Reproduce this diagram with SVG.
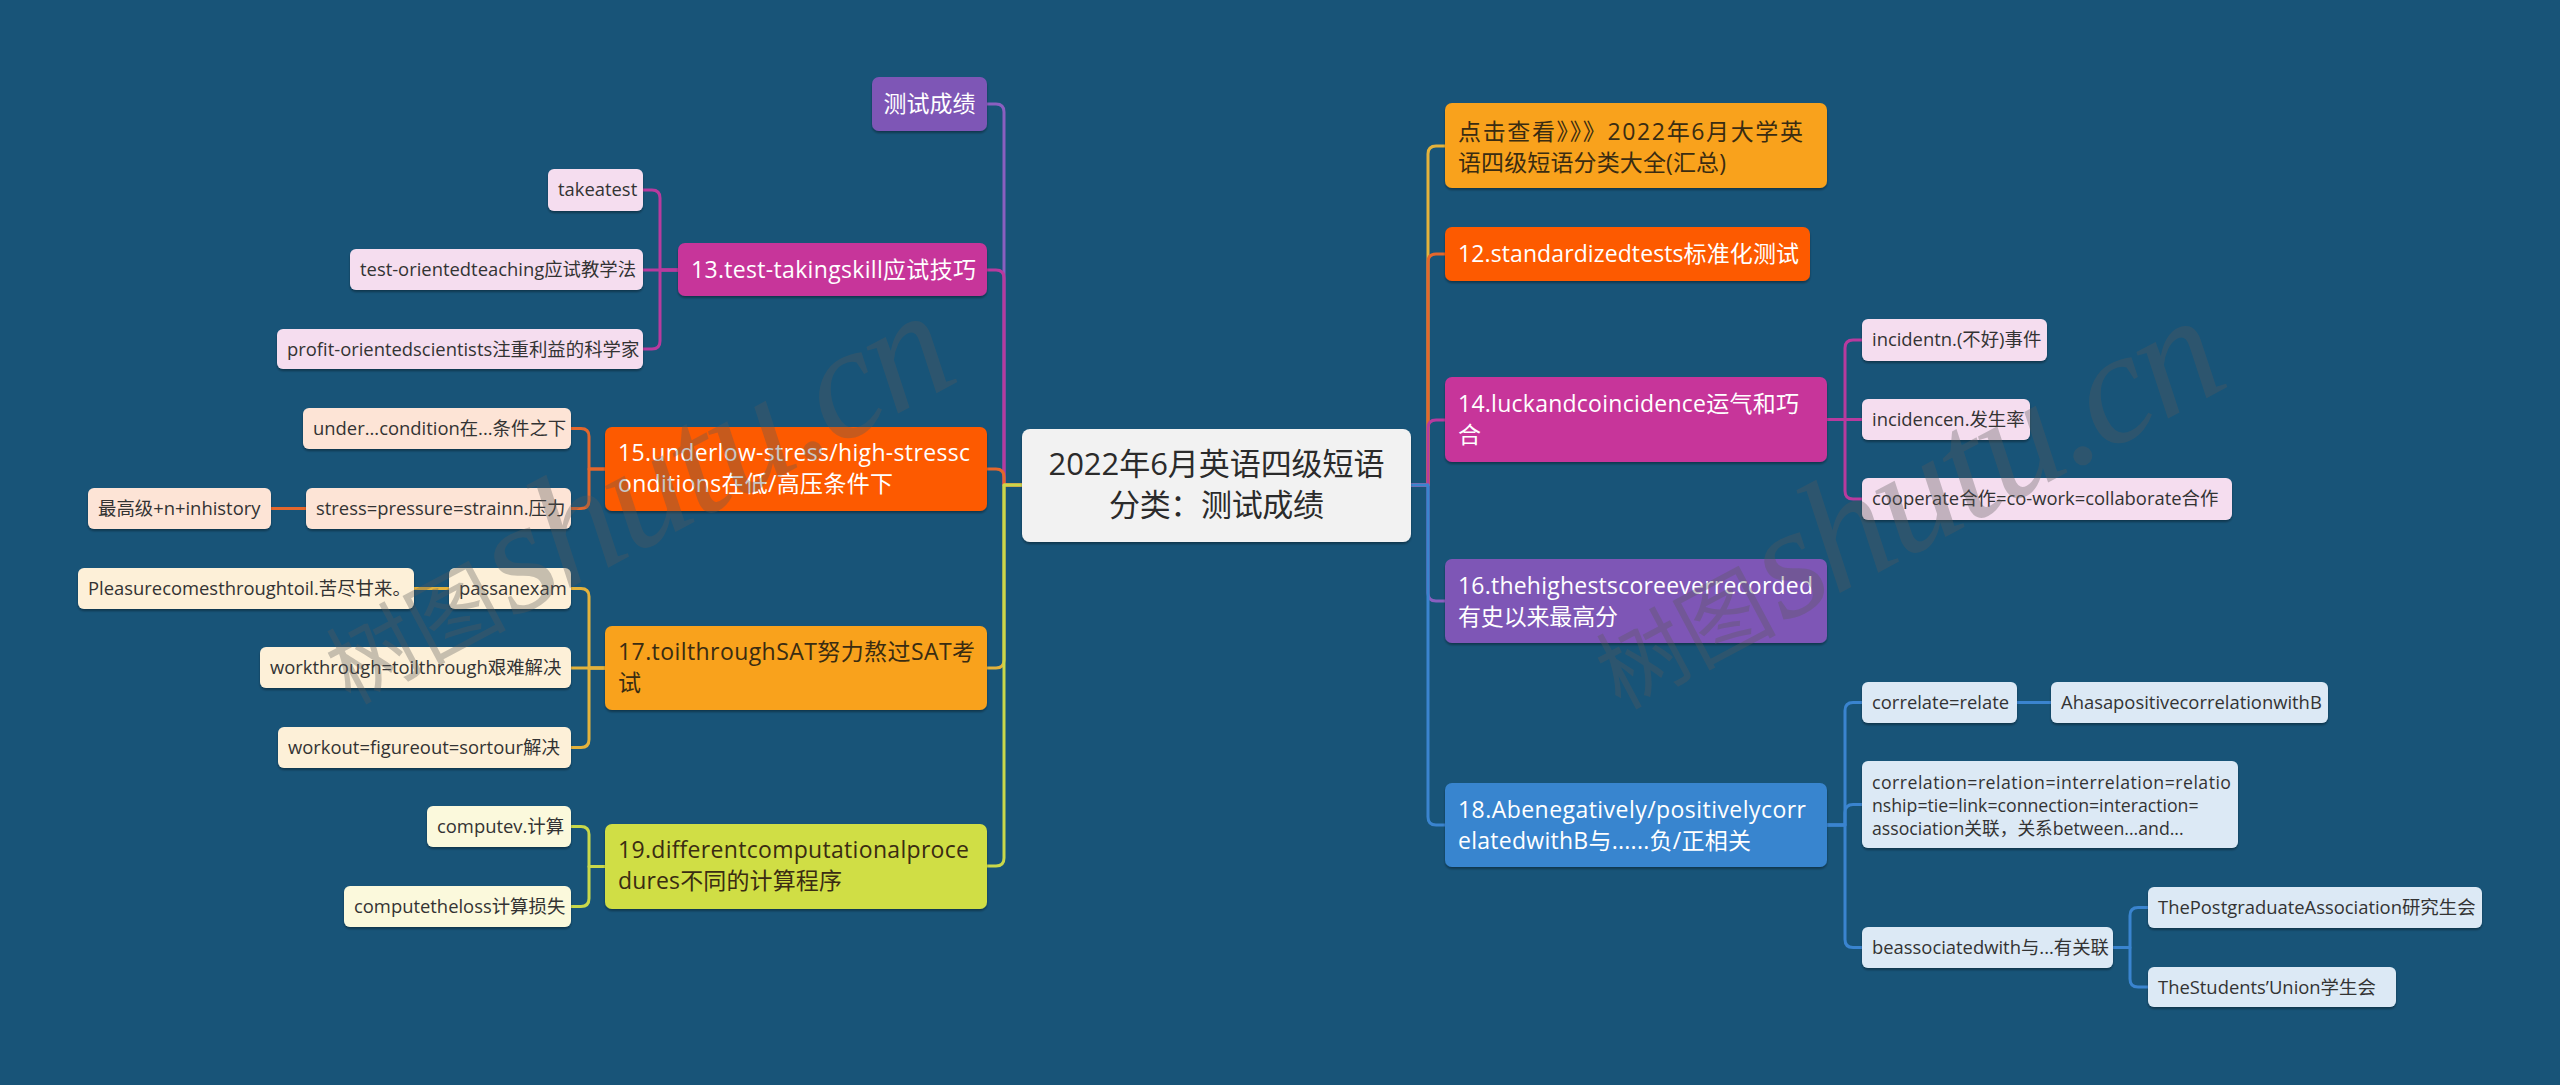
<svg xmlns="http://www.w3.org/2000/svg" width="2560" height="1085" viewBox="0 0 2560 1085">
<style>
text{font-family:"Open Sans","Noto Sans CJK SC",sans-serif;}
.c{fill:none;stroke-width:3;stroke-linecap:round;stroke-linejoin:round;}
.root rect{fill:#f2f2f2;}
.root text{font-size:31px;fill:#2b2b2b;text-anchor:middle;}
.b text{font-size:23px;}
.g text{font-size:18.4px;fill:#333;}
.w{fill:#fff;}
.d{fill:#3a2c12;}
.pur{fill:#7e57b6;}
.mag{fill:#c7349a;}
.org{fill:#fd5a02;}
.yel{fill:#f9a21b;}
.lim{fill:#d0de45;}
.blu{fill:#3785cf;}
.pk{fill:#f5ddef;}
.pc{fill:#fde4d6;}
.cr{fill:#fdf0d8;}
.lc{fill:#fbf9dc;}
.lb{fill:#dce9f5;}
.wm text{fill:#5a5a5a;opacity:0.33;}
.wm .cj{font-family:"Noto Sans CJK SC",serif;font-size:90px;}
.wm .lt{font-family:"Liberation Serif",serif;font-style:italic;font-size:160px;}
</style>
<defs>
<filter id="sh" x="-5%" y="-10%" width="110%" height="130%">
<feDropShadow dx="0" dy="2" stdDeviation="1.2" flood-color="#000" flood-opacity="0.35"/>
</filter>
</defs>
<rect width="2560" height="1085" fill="#185478"/>

<g id="connectors">
<path class="c" stroke="#e3b23c" d="M1411,485 H1428 V154 Q1428,146 1436,146 H1445"/>
<path class="c" stroke="#e4672c" d="M1411,485 H1428 V262 Q1428,254 1436,254 H1445"/>
<path class="c" stroke="#b83a9e" d="M1411,485 H1428 V428 Q1428,420 1436,420 H1445"/>
<path class="c" stroke="#8a5fc0" d="M1411,485 H1428 V593 Q1428,601 1436,601 H1445"/>
<path class="c" stroke="#3a84cf" d="M1411,485 H1428 V817 Q1428,825 1436,825 H1445"/>

<path class="c" stroke="#8a5fc0" d="M1022,485 H1004 V112 Q1004,104 996,104 H987"/>
<path class="c" stroke="#b83a9e" d="M1022,485 H1004 V278 Q1004,270 996,270 H987"/>
<path class="c" stroke="#e4672c" d="M1022,485 H1004 V477 Q1004,469 996,469 H987"/>
<path class="c" stroke="#e3b23c" d="M1022,485 H1004 V660 Q1004,668 996,668 H987"/>
<path class="c" stroke="#c9d84a" d="M1022,485 H1004 V858 Q1004,866 996,866 H987"/>

<path class="c" stroke="#b83a9e" d="M678,270 H660 V198 Q660,190 652,190 H643"/>
<path class="c" stroke="#b83a9e" d="M678,270 H643"/>
<path class="c" stroke="#b83a9e" d="M678,270 H660 V341 Q660,349 652,349 H643"/>

<path class="c" stroke="#e4672c" d="M605,469 H589 V436.5 Q589,428.5 581,428.5 H571"/>
<path class="c" stroke="#e4672c" d="M605,469 H589 V500.5 Q589,508.5 581,508.5 H571"/>
<path class="c" stroke="#e4672c" d="M306,508.5 H271"/>

<path class="c" stroke="#e3b23c" d="M605,668 H589 V596.5 Q589,588.5 581,588.5 H571"/>
<path class="c" stroke="#e3b23c" d="M605,668 H571"/>
<path class="c" stroke="#e3b23c" d="M605,668 H589 V739.5 Q589,747.5 581,747.5 H571"/>
<path class="c" stroke="#e3b23c" d="M449,588.5 H414"/>

<path class="c" stroke="#c9d84a" d="M605,866.5 H589 V834.5 Q589,826.5 581,826.5 H571"/>
<path class="c" stroke="#c9d84a" d="M605,866.5 H589 V898.5 Q589,906.5 581,906.5 H571"/>

<path class="c" stroke="#b83a9e" d="M1827,419.5 H1845 V348 Q1845,340 1853,340 H1862"/>
<path class="c" stroke="#b83a9e" d="M1827,419.5 H1862"/>
<path class="c" stroke="#b83a9e" d="M1827,419.5 H1845 V491 Q1845,499 1853,499 H1862"/>

<path class="c" stroke="#3a84cf" d="M1827,825 H1845 V710.5 Q1845,702.5 1853,702.5 H1862"/>
<path class="c" stroke="#3a84cf" d="M1827,825 H1845 V812.5 Q1845,804.5 1853,804.5 H1862"/>
<path class="c" stroke="#3a84cf" d="M1827,825 H1845 V939.5 Q1845,947.5 1853,947.5 H1862"/>
<path class="c" stroke="#3a84cf" d="M2017,702.5 H2051"/>
<path class="c" stroke="#3a84cf" d="M2113,947.5 H2130 V915.5 Q2130,907.5 2138,907.5 H2148"/>
<path class="c" stroke="#3a84cf" d="M2113,947.5 H2130 V979 Q2130,987 2138,987 H2148"/>
</g>

<g id="root" class="root"><rect x="1022" y="429" width="389" height="113" rx="8" filter="url(#sh)"/><text x="1216.5" y="475" textLength="336">2022年6月英语四级短语</text><text x="1216.5" y="516" textLength="215">分类：测试成绩</text></g>

<g id="n-right1" class="b"><rect class="yel" x="1445" y="103" width="382" height="85" rx="7" filter="url(#sh)"/><text class="d" x="1458" y="140" textLength="345">点击查看》》》2022年6月大学英</text><text class="d" x="1458" y="171" textLength="268">语四级短语分类大全(汇总)</text></g>
<g id="n-12" class="b"><rect class="org" x="1445" y="227" width="365" height="54" rx="7" filter="url(#sh)"/><text class="w" x="1458" y="262" textLength="341">12.standardizedtests标准化测试</text></g>
<g id="n-14" class="b"><rect class="mag" x="1445" y="377" width="382" height="85" rx="7" filter="url(#sh)"/><text class="w" x="1458" y="412" textLength="341">14.luckandcoincidence运气和巧</text><text class="w" x="1458" y="443">合</text></g>
<g id="n-16" class="b"><rect class="pur" x="1445" y="559" width="382" height="84" rx="7" filter="url(#sh)"/><text class="w" x="1458" y="594" textLength="355">16.thehighestscoreeverrecorded</text><text class="w" x="1458" y="625" textLength="160">有史以来最高分</text></g>
<g id="n-18" class="b"><rect class="blu" x="1445" y="783" width="382" height="84" rx="7" filter="url(#sh)"/><text class="w" x="1458" y="818" textLength="348">18.Abenegatively/positivelycorr</text><text class="w" x="1458" y="849" textLength="293">elatedwithB与......负/正相关</text></g>

<g id="n-score" class="b"><rect class="pur" x="872" y="77" width="115" height="54" rx="7" filter="url(#sh)"/><text class="w" x="929.5" y="112" text-anchor="middle">测试成绩</text></g>
<g id="n-13" class="b"><rect class="mag" x="678" y="243" width="309" height="53" rx="7" filter="url(#sh)"/><text class="w" x="691" y="278" textLength="285">13.test-takingskill应试技巧</text></g>
<g id="n-15" class="b"><rect class="org" x="605" y="427" width="382" height="84" rx="7" filter="url(#sh)"/><text class="w" x="618" y="461" textLength="352">15.underlow-stress/high-stressc</text><text class="w" x="618" y="492" textLength="275">onditions在低/高压条件下</text></g>
<g id="n-17" class="b"><rect class="yel" x="605" y="626" width="382" height="84" rx="7" filter="url(#sh)"/><text class="d" x="618" y="660" textLength="357">17.toilthroughSAT努力熬过SAT考</text><text class="d" x="618" y="691">试</text></g>
<g id="n-19" class="b"><rect class="lim" x="605" y="824" width="382" height="85" rx="7" filter="url(#sh)"/><text class="d" x="618" y="858" textLength="351">19.differentcomputationalproce</text><text class="d" x="618" y="889" textLength="224">dures不同的计算程序</text></g>

<g id="n-13a" class="g"><rect class="pk" x="548" y="169" width="95" height="42" rx="6" filter="url(#sh)"/><text x="558" y="196">takeatest</text></g>
<g id="n-13b" class="g"><rect class="pk" x="350" y="249" width="293" height="41" rx="6" filter="url(#sh)"/><text x="360" y="276">test-orientedteaching应试教学法</text></g>
<g id="n-13c" class="g"><rect class="pk" x="277" y="329" width="366" height="40" rx="6" filter="url(#sh)"/><text x="287" y="356">profit-orientedscientists注重利益的科学家</text></g>

<g id="n-15a" class="g"><rect class="pc" x="303" y="408" width="268" height="41" rx="6" filter="url(#sh)"/><text x="313" y="435">under...condition在...条件之下</text></g>
<g id="n-15b" class="g"><rect class="pc" x="306" y="488" width="265" height="41" rx="6" filter="url(#sh)"/><text x="316" y="515">stress=pressure=strainn.压力</text></g>
<g id="n-15b1" class="g"><rect class="pc" x="88" y="488" width="183" height="41" rx="6" filter="url(#sh)"/><text x="98" y="515">最高级+n+inhistory</text></g>

<g id="n-17a" class="g"><rect class="cr" x="449" y="568" width="122" height="41" rx="6" filter="url(#sh)"/><text x="459" y="595">passanexam</text></g>
<g id="n-17a1" class="g"><rect class="cr" x="78" y="568" width="336" height="41" rx="6" filter="url(#sh)"/><text x="88" y="595">Pleasurecomesthroughtoil.苦尽甘来。</text></g>
<g id="n-17b" class="g"><rect class="cr" x="260" y="647" width="311" height="41" rx="6" filter="url(#sh)"/><text x="270" y="674">workthrough=toilthrough艰难解决</text></g>
<g id="n-17c" class="g"><rect class="cr" x="278" y="727" width="293" height="41" rx="6" filter="url(#sh)"/><text x="288" y="754">workout=figureout=sortour解决</text></g>

<g id="n-19a" class="g"><rect class="lc" x="427" y="806" width="144" height="41" rx="6" filter="url(#sh)"/><text x="437" y="833">computev.计算</text></g>
<g id="n-19b" class="g"><rect class="lc" x="344" y="886" width="227" height="41" rx="6" filter="url(#sh)"/><text x="354" y="913">computetheloss计算损失</text></g>

<g id="n-14a" class="g"><rect class="pk" x="1862" y="319" width="185" height="42" rx="6" filter="url(#sh)"/><text x="1872" y="346">incidentn.(不好)事件</text></g>
<g id="n-14b" class="g"><rect class="pk" x="1862" y="399" width="168" height="41" rx="6" filter="url(#sh)"/><text x="1872" y="426">incidencen.发生率</text></g>
<g id="n-14c" class="g"><rect class="pk" x="1862" y="478" width="370" height="42" rx="6" filter="url(#sh)"/><text x="1872" y="505">cooperate合作=co-work=collaborate合作</text></g>

<g id="n-18a" class="g"><rect class="lb" x="1862" y="682" width="155" height="41" rx="6" filter="url(#sh)"/><text x="1872" y="709">correlate=relate</text></g>
<g id="n-18a1" class="g"><rect class="lb" x="2051" y="682" width="277" height="41" rx="6" filter="url(#sh)"/><text x="2061" y="709">AhasapositivecorrelationwithB</text></g>
<g id="n-18b" class="g"><rect class="lb" x="1862" y="761" width="376" height="87" rx="6" filter="url(#sh)"/><text x="1872" y="789" style="font-size:17.7px" textLength="359">correlation=relation=interrelation=relatio</text><text x="1872" y="812" style="font-size:17.7px">nship=tie=link=connection=interaction=</text><text x="1872" y="835" style="font-size:17.7px">association关联，关系between...and...</text></g>
<g id="n-18c" class="g"><rect class="lb" x="1862" y="927" width="251" height="41" rx="6" filter="url(#sh)"/><text x="1872" y="954">beassociatedwith与...有关联</text></g>
<g id="n-18c1" class="g"><rect class="lb" x="2148" y="887" width="334" height="41" rx="6" filter="url(#sh)"/><text x="2158" y="914">ThePostgraduateAssociation研究生会</text></g>
<g id="n-18c2" class="g"><rect class="lb" x="2148" y="967" width="248" height="40" rx="6" filter="url(#sh)"/><text x="2158" y="994">TheStudents’Union学生会</text></g>

<g class="wm" transform="translate(350,705) rotate(-28)"><text class="cj" x="0" y="0">树图</text><text class="lt" x="185" y="0" textLength="510">shutu.cn</text></g>
<g class="wm" transform="translate(1620,710) rotate(-28)"><text class="cj" x="0" y="0">树图</text><text class="lt" x="185" y="0" textLength="510">shutu.cn</text></g>
</svg>
